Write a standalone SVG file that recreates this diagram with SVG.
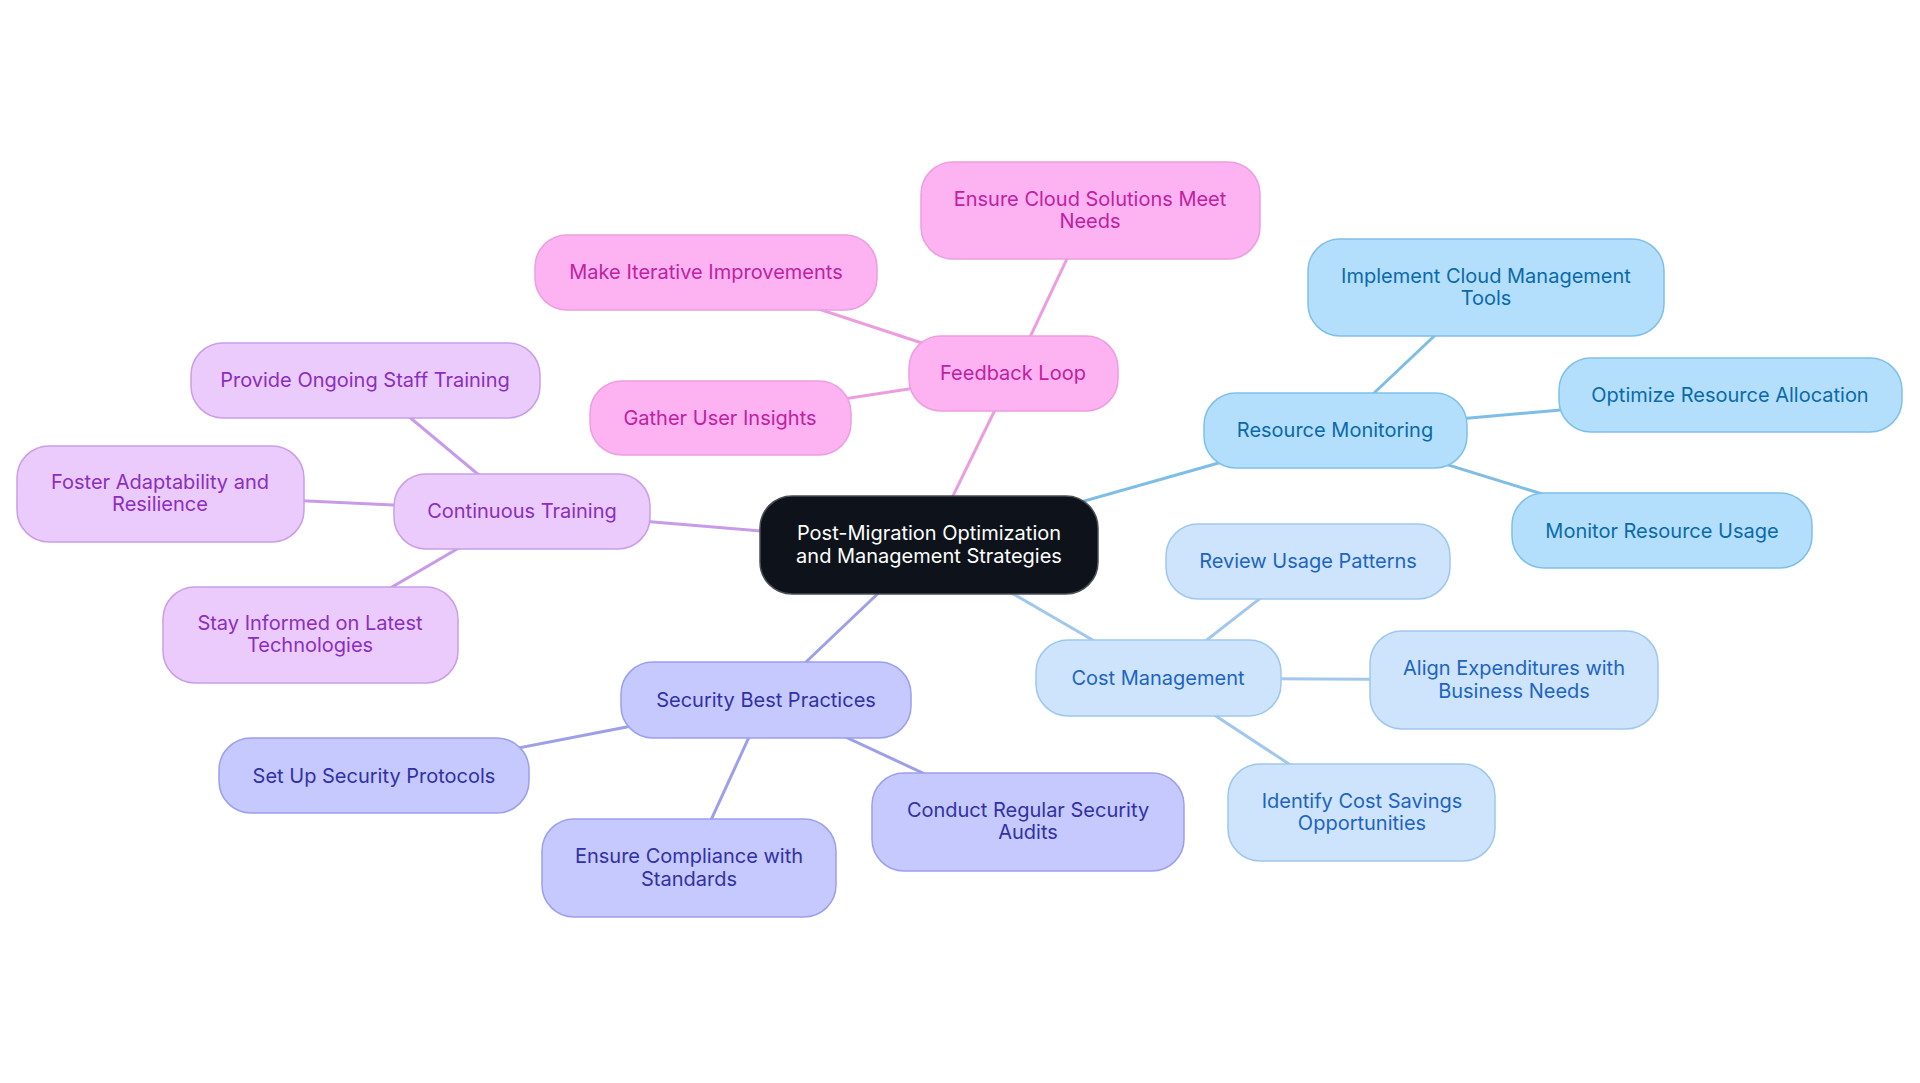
<svg xmlns="http://www.w3.org/2000/svg" width="1920" height="1083" viewBox="0 0 1920 1083">
<style>
text{font-family:Inter,"Noto Sans","Liberation Sans",sans-serif;font-size:20px;text-anchor:middle;dominant-baseline:central}
.c rect{fill:#0e131b;stroke:#4a4f57;stroke-width:1.5}
.c text{fill:#ffffff}
.p rect{fill:#fdb3f1;stroke:#ec9ee0;stroke-width:1.5}
.p text{fill:#c0219f}
.b rect{fill:#b3dffc;stroke:#7fc0ea;stroke-width:1.5}
.b text{fill:#0b69ab}
.l rect{fill:#cde4fc;stroke:#9fc7ee;stroke-width:1.5}
.l text{fill:#1e64c0}
.s rect{fill:#c6c9fd;stroke:#9c9fee;stroke-width:1.5}
.s text{fill:#3131a6}
.v rect{fill:#eacbfc;stroke:#c99ee9;stroke-width:1.5}
.v text{fill:#8b2ec0}
#edges line{stroke-width:3;fill:none}
.ep{stroke:#eb9de0}.eb{stroke:#7dbde6}.el{stroke:#a1c8ec}.es{stroke:#9d9fe8}.ev{stroke:#c79be8}
</style>
<rect width="1920" height="1083" fill="#ffffff"/>
<g id="edges">
<line class="ep" x1="929" y1="545" x2="1013" y2="373"/>
<line class="ep" x1="1013" y1="373" x2="1090" y2="210"/>
<line class="ep" x1="1013" y1="373" x2="706" y2="272"/>
<line class="ep" x1="1013" y1="373" x2="720" y2="418"/>
<line class="eb" x1="929" y1="545" x2="1335" y2="430"/>
<line class="eb" x1="1335" y1="430" x2="1486" y2="287"/>
<line class="eb" x1="1335" y1="430" x2="1730" y2="395"/>
<line class="eb" x1="1335" y1="430" x2="1662" y2="531"/>
<line class="el" x1="929" y1="545" x2="1158" y2="678"/>
<line class="el" x1="1158" y1="678" x2="1308" y2="561"/>
<line class="el" x1="1158" y1="678" x2="1514" y2="680"/>
<line class="el" x1="1158" y1="678" x2="1362" y2="812"/>
<line class="es" x1="929" y1="545" x2="766" y2="700"/>
<line class="es" x1="766" y1="700" x2="374" y2="776"/>
<line class="es" x1="766" y1="700" x2="689" y2="868"/>
<line class="es" x1="766" y1="700" x2="1028" y2="822"/>
<line class="ev" x1="929" y1="545" x2="522" y2="511"/>
<line class="ev" x1="522" y1="511" x2="365" y2="380"/>
<line class="ev" x1="522" y1="511" x2="160" y2="494"/>
<line class="ev" x1="522" y1="511" x2="310" y2="635"/>
</g>
<g id="n-center" class="c"><rect x="760" y="496" width="338" height="98" rx="32"/><text x="929" y="533">Post-Migration Optimization</text><text x="929" y="556">and Management Strategies</text></g>
<g id="n-feedback" class="p"><rect x="909" y="336" width="209" height="75" rx="32"/><text x="1013" y="373">Feedback Loop</text></g>
<g id="n-ensure-cloud" class="p"><rect x="921" y="162" width="339" height="97" rx="32"/><text x="1090" y="199">Ensure Cloud Solutions Meet</text><text x="1090" y="221">Needs</text></g>
<g id="n-iterative" class="p"><rect x="535" y="235" width="342" height="75" rx="32"/><text x="706" y="272">Make Iterative Improvements</text></g>
<g id="n-insights" class="p"><rect x="590" y="381" width="261" height="74" rx="32"/><text x="720" y="418">Gather User Insights</text></g>
<g id="n-resource" class="b"><rect x="1204" y="393" width="263" height="75" rx="32"/><text x="1335" y="430">Resource Monitoring</text></g>
<g id="n-tools" class="b"><rect x="1308" y="239" width="356" height="97" rx="32"/><text x="1486" y="276">Implement Cloud Management</text><text x="1486" y="298">Tools</text></g>
<g id="n-optimize" class="b"><rect x="1559" y="358" width="343" height="74" rx="32"/><text x="1730" y="395">Optimize Resource Allocation</text></g>
<g id="n-monitor" class="b"><rect x="1512" y="493" width="300" height="75" rx="32"/><text x="1662" y="531">Monitor Resource Usage</text></g>
<g id="n-cost" class="l"><rect x="1036" y="640" width="245" height="76" rx="32"/><text x="1158" y="678">Cost Management</text></g>
<g id="n-review" class="l"><rect x="1166" y="524" width="284" height="75" rx="32"/><text x="1308" y="561">Review Usage Patterns</text></g>
<g id="n-align" class="l"><rect x="1370" y="631" width="288" height="98" rx="32"/><text x="1514" y="668">Align Expenditures with</text><text x="1514" y="691">Business Needs</text></g>
<g id="n-savings" class="l"><rect x="1228" y="764" width="267" height="97" rx="32"/><text x="1362" y="801">Identify Cost Savings</text><text x="1362" y="823">Opportunities</text></g>
<g id="n-security" class="s"><rect x="621" y="662" width="290" height="76" rx="32"/><text x="766" y="700">Security Best Practices</text></g>
<g id="n-protocols" class="s"><rect x="219" y="738" width="310" height="75" rx="32"/><text x="374" y="776">Set Up Security Protocols</text></g>
<g id="n-compliance" class="s"><rect x="542" y="819" width="294" height="98" rx="32"/><text x="689" y="856">Ensure Compliance with</text><text x="689" y="879">Standards</text></g>
<g id="n-audits" class="s"><rect x="872" y="773" width="312" height="98" rx="32"/><text x="1028" y="810">Conduct Regular Security</text><text x="1028" y="832">Audits</text></g>
<g id="n-training" class="v"><rect x="394" y="474" width="256" height="75" rx="32"/><text x="522" y="511">Continuous Training</text></g>
<g id="n-staff" class="v"><rect x="191" y="343" width="349" height="75" rx="32"/><text x="365" y="380">Provide Ongoing Staff Training</text></g>
<g id="n-adapt" class="v"><rect x="17" y="446" width="287" height="96" rx="32"/><text x="160" y="482">Foster Adaptability and</text><text x="160" y="504">Resilience</text></g>
<g id="n-informed" class="v"><rect x="163" y="587" width="295" height="96" rx="32"/><text x="310" y="623">Stay Informed on Latest</text><text x="310" y="645">Technologies</text></g>
</svg>
